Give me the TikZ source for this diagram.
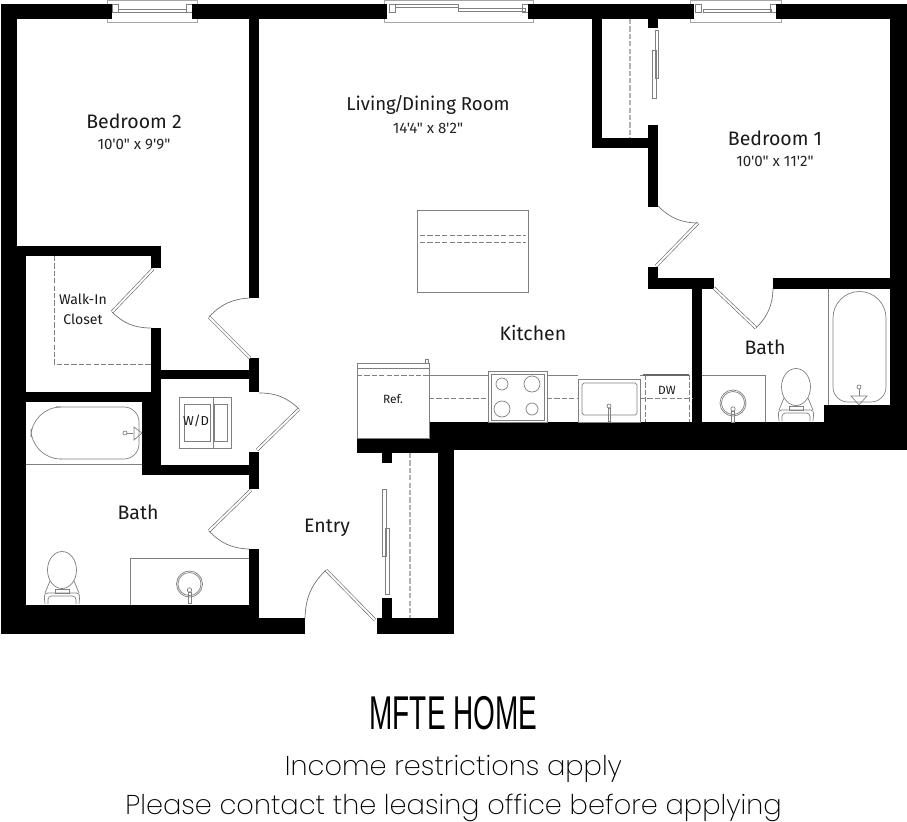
\documentclass[tikz,border=0pt]{standalone}
\usepackage{fontspec}
\usepackage{graphicx}
\newfontfamily\labfont{Fira Sans}
\newfontfamily\thinfont{Poppins ExtraLight}
\newfontfamily\titlefont{Liberation Sans}
\usetikzlibrary{positioning,calc}
\tikzset{
  fixture/.style={draw=black!50, line width=0.4pt},
  hidden/.style={draw=black!50, line width=0.4pt, dashed, dash pattern=on 3pt off 1.2pt},
  leaf/.style={draw=black!60, line width=0.35pt, double=white, double distance=1.1pt},
  swing/.style={draw=black!55, line width=0.4pt},
  room/.style={font=\labfont\fontsize{11.1}{13}\selectfont, text=black!90, inner sep=0pt},
  size/.style={font=\labfont\fontsize{8.6}{10}\selectfont, text=black!85, inner sep=0pt},
  small/.style={font=\labfont\fontsize{8}{9.5}\selectfont, text=black!90, inner sep=0pt, align=center}
}
\begin{document}
\begin{tikzpicture}[x=0.02cm, y=-0.02cm]
  \useasboundingbox (0,0) rectangle (907,822);
  % windows
  \foreach \xa/\xb in {107/197, 384/533, 690/781}{
    \draw[fixture, draw=black!35] (\xa,0) rectangle (\xb,22);
    \draw[fixture] (\xa+5,4) rectangle (\xa+11,12);
    \draw[fixture] (\xb-5,4) rectangle (\xb-11,12);
  }
  \foreach \xa/\xb/\ya in {118/186/9, 703/771/9, 395/458/4, 458/525/8}{
    \draw[fixture] (\xa,\ya) rectangle (\xb,\ya+3);
  }
  % walls
  \foreach \xa/\ya/\xb/\yb in {
    1/4/112/19, 192/4/387/19, 528/4/694/19, 776/4/907/19,
    1/4/17/246, 1/246/26/634, 1/605/259/634, 259/618/305/634,
    249/19/259/298, 17/246/161/256, 151/256/161/268,
    151/328/161/402, 161/370/249/379, 26/392/151/402, 142/402/161/475, 142/465/249/475,
    249/358/259/392, 249/452/259/489, 249/549/259/618,
    377/618/454/634, 382/598/392/618, 438/450/454/634,
    430/422/907/450, 357/438/438/453, 382/453/392/463,
    592/19/602/148, 592/138/658/148, 648/125/658/207, 648/19/658/28,
    648/267/658/289, 648/278/714/289, 773/278/891/289,
    692/289/702/422, 890/4/907/450, 824/405/891/422}{
    \fill[black] (\xa,\ya) rectangle (\xb,\yb);
  }
  % door leaves and swings
  \foreach \xa/\ya/\xb/\yb/\xc/\yc/\bend in {
    153/269/112/312/151/328/right, 250/358/209/317/250/298/left,
    257/450/299/409/259/393/right, 251/490/209/531/249/549/right,
    375/620/326/570/305/618/right, 656/266/698/223/658/206/left,
    714/288/756/328/773/288/right}{
    \draw[leaf] (\xa,\ya) -- (\xb,\yb);
    \draw[swing] (\xb,\yb) to[bend \bend=22] (\xc,\yc);
  }
  % closet doors and shelves
  \draw[fixture] (382,489) rectangle (386,556);
  \draw[fixture] (385,528) rectangle (389,594);
  \draw[fixture] (652,50) rectangle (656,98);
  \draw[fixture] (655,30) rectangle (658,78);
  \draw[hidden] (54,256) -- (54,364) -- (151,364);
  \draw[hidden, line width=0.9pt, draw=black!30] (410,453) -- (410,618);
  \draw[hidden, line width=0.9pt, draw=black!30] (630,19) -- (630,138);
  % island
  \draw[fixture] (417,210) rectangle (528,292);
  \foreach \y in {235,242}{
    \draw[hidden] (420,\y) -- (526,\y);
  }
  % fridge and counter
  \draw[fixture] (357,363) rectangle (429,438);
  \draw[fixture] (357,368) -- (429,368);
  \draw[hidden] (357,375) -- (429,375);
  \draw[fixture] (425,359) rectangle (428,363);
  \draw[fixture] (429,375) -- (488,375) (547,375) -- (578,375) (640,375) -- (643,375);
  \draw[hidden] (429,398) -- (488,398) (547,398) -- (578,398);
  \draw[hidden] (640,398) -- (692,398);
  % range
  \draw[fixture] (488,371) rectangle (547,422);
  \draw[fixture] (491,374) rectangle (544,420);
  \foreach \cx/\cy/\r in {502/384/6, 532/384/8, 502/409/8, 532/409/6}{
    \draw[fixture] (\cx,\cy) circle[radius=\r];
  }
  % kitchen sink and dishwasher
  \draw[fixture] (578,379) rectangle (640,422);
  \draw[fixture, rounded corners=1pt] (582,383) rectangle (637,415);
  \draw[fixture] (609,406) circle[radius=2];
  \draw[fixture] (608,408) rectangle (610,421);
  \draw[draw=black!60, line width=0.9pt] (643,375) -- (689,375);
  \draw[hidden] (645,375) -- (645,422);
  \draw[hidden] (689,375) -- (689,422);
  % bath counters and basins
  \draw[fixture] (130,605) -- (130,558) -- (249,558);
  \draw[fixture] (702,375) -- (765,375) -- (765,422);
  \foreach \cx/\cy in {189.5/584, 733/403}{
    \draw[fixture] (\cx,\cy) circle[radius=13];
    \draw[fixture] (\cx,\cy) circle[radius=11.5];
    \draw[fixture] (\cx,\cy+6) circle[radius=2.2];
    \draw[fixture] (\cx-1.5,\cy+8) rectangle (\cx+1.5,\cy+19);
  }
  % toilets
  \foreach \cx/\cy in {62/605, 796/422}{
    \draw[fixture] (\cx,\cy-35) ellipse[x radius=14.5, y radius=18.5];
    \draw[fixture] (\cx-12,\cy-24) -- (\cx-17,\cy-12) (\cx+12,\cy-24) -- (\cx+17,\cy-12);
    \draw[fixture, rounded corners=2pt] (\cx-17,\cy-1) -- (\cx-18,\cy-12) -- (\cx+18,\cy-12) -- (\cx+17,\cy-1);
    \draw[fixture, rounded corners=2pt] (\cx-14,\cy-1) -- (\cx-14,\cy-9) -- (\cx+14,\cy-9) -- (\cx+14,\cy-1);
    \draw[fixture] (\cx-7,\cy-16) rectangle (\cx+7,\cy-12);
  }
  % tubs
  \draw[fixture] (26,464) -- (142,464);
  \draw[fixture, rounded corners=6mm] (56,407) -- (31,407) -- (31,459) -- (60,459);
  \draw[fixture, rounded corners=3mm] (60,459) -- (139,459) -- (139,407) -- (56,407);
  \draw[fixture] (125,433) circle[radius=2];
  \draw[fixture] (127,433) -- (133,433);
  \draw[fixture] (134,427) -- (142,433) -- (134,440) -- cycle;
  \draw[fixture] (828,289) -- (828,405);
  \draw[fixture, rounded corners=3mm] (833,360) -- (833,402) -- (886,402) -- (886,360);
  \draw[fixture] (833,360) -- (833,318) arc[start angle=180, end angle=360, radius=26.5] -- (886,360);
  \draw[fixture] (859,387) circle[radius=2];
  \draw[fixture] (859,389) -- (859,396);
  \draw[fixture] (851,396) -- (867,396) -- (859,405) -- cycle;
  % washer and dryer
  \draw[fixture] (179,397) rectangle (231,448);
  \draw[fixture] (213.5,397) -- (213.5,448);
  \draw[fixture] (184,404) rectangle (210,441);
  \draw[fixture] (214,404) rectangle (227.5,441);
  % room labels
  \node[room] (labBedTwo) at (134,121) {Bedroom 2};
  \node[size] (dimBedTwo) at (134,144) {10'0" x 9'9"};
  \node[room, font=\labfont\fontsize{10.6}{13}\selectfont] (labLiving) at (428,105) {Living\kern-1pt/\kern-1ptDining Room};
  \node[size] (dimLiving) at (428,128) {14'4" x 8'2"};
  \node[room] (labBedOne) at (775,138) {Bedroom 1};
  \node[size] (dimBedOne) at (775,161) {10'0" x 11'2"};
  \node[room] (labKitchen) at (533,333) {Kitchen};
  \node[room] (labBathOne) at (765,347) {Bath};
  \node[room] (labBathTwo) at (138,512) {Bath};
  \node[room] (labEntry) at (327,528) {Entry};
  \node[small] (labCloset) at (83,309) {Walk-In\\[2pt]Closet};
  \node[small, font=\labfont\fontsize{7.4}{9}\selectfont] (labWD) at (196,421) {W/D};
  \node[small, font=\labfont\fontsize{6.8}{8}\selectfont] (labRef) at (393,399) {Ref.};
  \node[small, font=\labfont\fontsize{6.8}{8}\selectfont] (labDW) at (667,390) {DW};
  % caption
  \node[inner sep=0pt] (labTitle) at (453.5,713) {\scalebox{0.59}[1]{\titlefont\fontsize{27}{30}\selectfont MFTE HOME}};
  \node[inner sep=0pt, font=\thinfont\fontsize{15.5}{18}\selectfont] (labIncome) at (453.5,769) {Income restrictions apply};
  \node[inner sep=0pt, font=\thinfont\fontsize{15.5}{18}\selectfont] (labContact) at (453.5,808) {Please contact the leasing office before applying};
\end{tikzpicture}
\end{document}
